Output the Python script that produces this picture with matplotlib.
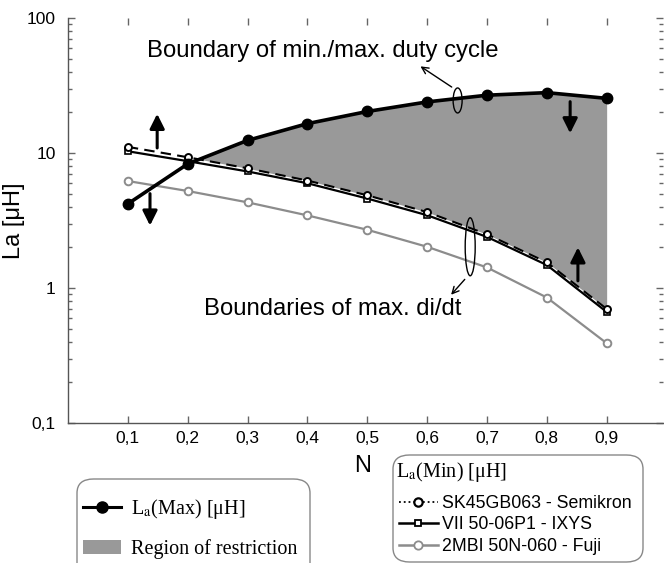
import matplotlib
matplotlib.use("Agg")
import matplotlib.pyplot as plt
from matplotlib.lines import Line2D
from matplotlib.patches import Patch, Ellipse, FancyBboxPatch
from matplotlib.ticker import FixedLocator, LogLocator, NullFormatter, FixedFormatter
import numpy as np

plt.rcParams['font.family'] = ['Liberation Sans', 'DejaVu Sans']
plt.rcParams['mathtext.fontset'] = 'stix'

N = [0.1, 0.2, 0.3, 0.4, 0.5, 0.6, 0.7, 0.8, 0.9]
la_max = [4.2, 8.3, 12.4, 16.5, 20.3, 23.9, 26.8, 28.0, 25.4]
la_min_semikron = [11.1, 9.3, 7.7, 6.25, 4.86, 3.65, 2.5, 1.55, 0.70]
la_min_ixys = [10.3, 8.7, 7.3, 5.97, 4.6, 3.46, 2.39, 1.48, 0.665]
la_min_fuji = [6.2, 5.23, 4.31, 3.45, 2.7, 2.02, 1.42, 0.85, 0.39]
xtick_labels = ["0,1", "0,2", "0,3", "0,4", "0,5", "0,6", "0,7", "0,8", "0,9"]
ytick_values = [0.1, 1, 10, 100]
ytick_labels = ["0,1", "1", "10", "100"]

W, H = 664, 563
fig = plt.figure(figsize=(W / 100, H / 100), dpi=100)
ax = fig.add_axes([68 / W, 1 - 423 / H, (663 - 68) / W, (423 - 18) / H])
ax.set_yscale('log')
ax.set_xlim(0, (663 - 68) / 598.5)
ax.set_ylim(0.1, 100)

x = np.array(N)
mx = np.array(la_max)
sk = np.array(la_min_semikron)
ax.fill_between(x, sk, mx, where=mx >= sk, interpolate=True, color='#999999', lw=0, zorder=1)

ax.plot(N, la_min_fuji, color='#8c8c8c', lw=1.6, marker='o', ms=5.5, mfc='white',
        mec='#8c8c8c', mew=1.4, zorder=3)
ax.plot(N, la_min_ixys, color='black', lw=1.6, marker='s', ms=4.5, mfc='white',
        mec='black', mew=1.2, zorder=4)
ax.plot(N, la_min_semikron, color='black', lw=1.5, ls=(0, (5, 3)), marker='o', ms=5,
        mfc='white', mec='black', mew=1.4, zorder=5)
ax.plot(N, la_max, color='black', lw=2.6, marker='o', ms=7.5, mfc='black', zorder=6)

# axes styling
for s in ['top', 'right']:
    ax.spines[s].set_visible(False)
for s in ['left', 'bottom']:
    ax.spines[s].set_color('#555555')
    ax.spines[s].set_linewidth(1.0)
ax.xaxis.set_major_locator(FixedLocator(N))
ax.xaxis.set_major_formatter(FixedFormatter(xtick_labels))
ax.yaxis.set_major_locator(FixedLocator(ytick_values))
ax.yaxis.set_major_formatter(FixedFormatter(ytick_labels))
ax.yaxis.set_minor_locator(LogLocator(base=10, subs=np.arange(2, 10)))
ax.yaxis.set_minor_formatter(NullFormatter())
ax.tick_params(axis='both', which='both', direction='in', top=True, right=True,
               color='#666666', labelsize=12.5)
ax.tick_params(axis='x', which='major', length=5, width=1, pad=6)
ax.tick_params(axis='y', which='major', length=5, width=1, pad=9)
ax.tick_params(axis='y', which='minor', length=3, width=1)

ax.set_ylabel("La [μH]", fontsize=17)
ax.yaxis.set_label_coords(-(68 - 25) / 595, 0.5)
ax.set_xlabel("N", fontsize=17)
ax.xaxis.set_label_coords((363 - 68) / 595, -(455 - 423) / 405)

# annotations
ax.text(0.425, 57, "Boundary of min./max. duty cycle", fontsize=17.2, ha='center', va='center')
ax.text(0.443, 0.70, "Boundaries of max. di/dt", fontsize=17.2, ha='center', va='center')

def axfrac(xv, yv):
    x0, x1 = ax.get_xlim()
    return ((xv - x0) / (x1 - x0), (np.log10(yv) + 1) / 3)

c1 = axfrac(0.651, 24.5)
ax.add_patch(Ellipse(c1, 9 / 595, 25 / 405, transform=ax.transAxes, fill=False,
                     ec='black', lw=1.0, zorder=7))
c2 = axfrac(0.672, 2.02)
ax.add_patch(Ellipse(c2, 10 / 595, 58 / 405, transform=ax.transAxes, fill=False,
                     ec='black', lw=1.0, zorder=7))
ax.annotate("", xy=(0.585, 45), xytext=(0.645, 30),
            arrowprops=dict(arrowstyle='->', lw=1.0, color='black', mutation_scale=12))
ax.annotate("", xy=(0.637, 0.86), xytext=(0.666, 1.2),
            arrowprops=dict(arrowstyle='->', lw=1.0, color='black', mutation_scale=12))

thick = dict(arrowstyle='-|>', lw=2.2, color='black', mutation_scale=22, shrinkA=0, shrinkB=0)
ax.annotate("", xy=(0.149, 19.5), xytext=(0.149, 10.9), arrowprops=thick)
ax.annotate("", xy=(0.137, 2.9), xytext=(0.137, 5.0), arrowprops=thick)
ax.annotate("", xy=(0.839, 14.0), xytext=(0.839, 24.0), arrowprops=thick)
ax.annotate("", xy=(0.852, 2.0), xytext=(0.852, 1.13), arrowprops=thick)

# legend boxes
box1 = FancyBboxPatch((77 / W, -20 / H), (310 - 77) / W, (563 + 20 - 479) / H,
                      boxstyle="round,pad=0,rounding_size=0.025", transform=fig.transFigure,
                      fc='white', ec='#888888', lw=1.0)
box2 = FancyBboxPatch((393 / W, 1 - 562 / H), (643 - 393) / W, (562 - 455) / H,
                      boxstyle="round,pad=0,rounding_size=0.025", transform=fig.transFigure,
                      fc='white', ec='#888888', lw=1.0)
fig.patches.extend([box1, box2])

h_max = Line2D([], [], color='black', lw=2.2, marker='o', ms=8, mfc='black')
h_reg = Patch(fc='#999999', ec='none')
leg1 = fig.legend([h_max, h_reg], ["L$_{\\mathrm{a}}$(Max) [μH]", "Region of restriction"],
                  loc='upper left', bbox_to_anchor=(73 / W, 1 - 487 / H), frameon=False,
                  prop={'family': 'Liberation Serif', 'size': 14.5}, handlelength=1.9,
                  handletextpad=0.5, labelspacing=0.9, borderpad=0)

h_sk = Line2D([], [], color='black', lw=1.3, ls=':', marker='o', ms=6, mfc='white', mew=1.6)
h_ix = Line2D([], [], color='black', lw=1.8, marker='s', ms=5, mfc='white', mew=1.3)
h_fu = Line2D([], [], color='#8c8c8c', lw=1.8, marker='o', ms=6, mfc='white', mec='#8c8c8c', mew=1.3)
leg2 = fig.legend([h_sk, h_ix, h_fu],
                  ["SK45GB063 - Semikron", "VII 50-06P1 - IXYS", "2MBI 50N-060 - Fuji"],
                  loc='upper left', bbox_to_anchor=(390 / W, 1 - 486 / H), frameon=False,
                  prop={'family': 'Liberation Sans', 'size': 12.8}, handlelength=2.2,
                  handletextpad=0.2, labelspacing=0.25, borderpad=0)
fig.text(396 / W, 1 - 472 / H, "L$_{\\mathrm{a}}$(Min) [μH]", family='Liberation Serif',
         fontsize=14.5, ha='left', va='center')

fig.savefig("out.png", dpi=100)
